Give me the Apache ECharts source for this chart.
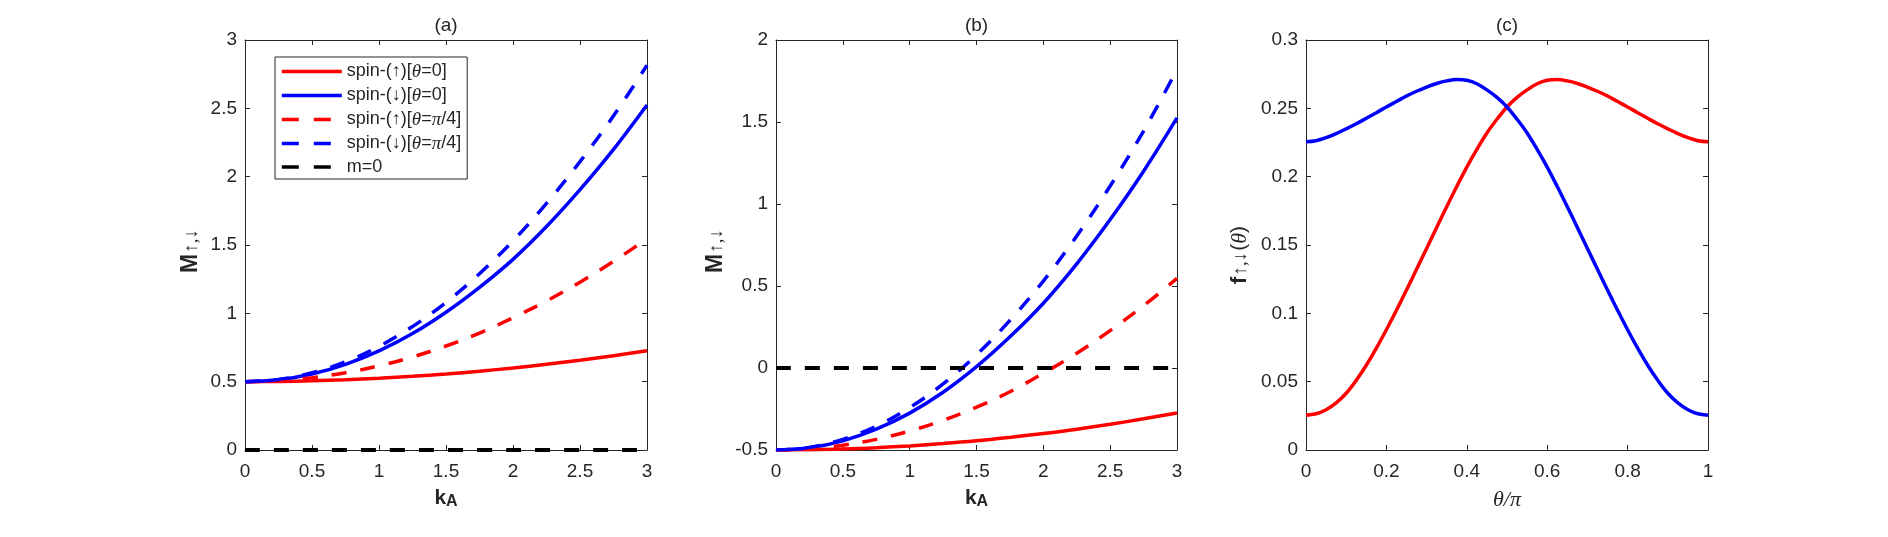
<!DOCTYPE html>
<html>
<head>
<meta charset="utf-8">
<script src="https://cdn.jsdelivr.net/npm/echarts@6/dist/echarts.min.js"></script>
<style>
  html, body { margin: 0; padding: 0; background: #ffffff; }
  #chart { width: 1888px; height: 537px; }
</style>
</head>
<body>
<div id="chart"></div>
<script>
// ---------------- data ----------------
const kA = [0, 0.25, 0.5, 0.75, 1, 1.25, 1.5, 1.75, 2, 2.25, 2.5, 2.75, 3];

// panel (a)
const aUpTheta0   = [0.500, 0.502, 0.506, 0.514, 0.525, 0.539, 0.556, 0.577, 0.600, 0.627, 0.657, 0.690, 0.726];
const aDownTheta0 = [0.500, 0.514, 0.556, 0.627, 0.725, 0.852, 1.008, 1.190, 1.395, 1.635, 1.905, 2.200, 2.525];
const aUpPi4      = [0.500, 0.507, 0.529, 0.565, 0.616, 0.681, 0.761, 0.855, 0.968, 1.090, 1.228, 1.380, 1.546];
const aDownPi4    = [0.500, 0.516, 0.565, 0.645, 0.758, 0.903, 1.080, 1.290, 1.530, 1.805, 2.110, 2.445, 2.815];

// panel (b)
const bUpTheta0   = [-0.500, -0.498, -0.494, -0.486, -0.475, -0.461, -0.444, -0.423, -0.400, -0.373, -0.343, -0.310, -0.274];
const bDownTheta0 = [-0.500, -0.486, -0.444, -0.373, -0.275, -0.148, 0.008, 0.190, 0.395, 0.635, 0.905, 1.200, 1.525];
const bUpPi4      = [-0.500, -0.493, -0.471, -0.435, -0.384, -0.319, -0.239, -0.145, -0.032, 0.090, 0.228, 0.380, 0.546];
const bDownPi4    = [-0.500, -0.484, -0.435, -0.355, -0.242, -0.097, 0.080, 0.290, 0.530, 0.805, 1.110, 1.445, 1.820];

// m = 0 reference line
const mZeroK = [0, 3];
const mZero  = [0, 0];

// panel (c)
const thetaOverPi = [0, 0.025, 0.05, 0.075, 0.1, 0.125, 0.15, 0.175, 0.2, 0.225, 0.25, 0.275, 0.3, 0.325, 0.35, 0.375, 0.4, 0.425, 0.45, 0.475, 0.5,
                     0.525, 0.55, 0.575, 0.6, 0.625, 0.65, 0.675, 0.7, 0.725, 0.75, 0.775, 0.8, 0.825, 0.85, 0.875, 0.9, 0.925, 0.95, 0.975, 1];
const fDown = [0.2255, 0.2263, 0.2285, 0.2315, 0.2350, 0.2387, 0.2427, 0.2468, 0.2510, 0.2550, 0.2590, 0.2625, 0.2656, 0.2682, 0.2701, 0.2711, 0.2705, 0.2680, 0.2635, 0.2580, 0.2510,
               0.2420, 0.2320, 0.2200, 0.2070, 0.1928, 0.1780, 0.1628, 0.1475, 0.1322, 0.1170, 0.1022, 0.0880, 0.0745, 0.0620, 0.0510, 0.0415, 0.0345, 0.0295, 0.0265, 0.0255];
const fUp   = [0.0255, 0.0265, 0.0295, 0.0345, 0.0415, 0.0510, 0.0620, 0.0745, 0.0880, 0.1022, 0.1170, 0.1322, 0.1475, 0.1628, 0.1780, 0.1928, 0.2070, 0.2200, 0.2320, 0.2420, 0.2510,
               0.2580, 0.2635, 0.2680, 0.2705, 0.2711, 0.2701, 0.2682, 0.2656, 0.2625, 0.2590, 0.2550, 0.2510, 0.2468, 0.2427, 0.2387, 0.2350, 0.2315, 0.2285, 0.2263, 0.2255];

// legend names
const seriesNames = ['spin-(↑)[θ=0]', 'spin-(↓)[θ=0]', 'spin-(↑)[θ=π/4]', 'spin-(↓)[θ=π/4]', 'm=0'];
const seriesDashed = [false, false, true, true, true];
const panelTitles = ['(a)', '(b)', '(c)'];

// ---------------- chart ----------------
const FONT = '"Liberation Sans", Arial, Helvetica, sans-serif';
const SERIF = '"Liberation Serif", "DejaVu Serif", "Times New Roman", serif';
const AX = '#262626';
const RED = '#ff0000', BLUE = '#0000ff', BLACK = '#000000';
const DASH = [15, 14];

const grids = [
  { left: 245, top: 40, width: 402, height: 410 },
  { left: 776, top: 40, width: 401, height: 410 },
  { left: 1306, top: 40, width: 402, height: 410 }
];

function zip(xs, ys) { return xs.map((x, i) => [x, ys[i]]); }

const yNameRich = {
  m: { fontFamily: FONT, fontSize: 23, fontWeight: 'bold', color: AX, verticalAlign: 'top', lineHeight: 23 },
  s: { fontFamily: SERIF, fontSize: 19, color: AX, verticalAlign: 'bottom', lineHeight: 19, padding: [17, 12, 0, 1] }
};
const kNameRich = {
  k: { fontFamily: FONT, fontSize: 21, fontWeight: 'bold', color: AX, verticalAlign: 'top', lineHeight: 22 },
  a: { fontFamily: FONT, fontSize: 16, fontWeight: 'bold', color: AX, verticalAlign: 'bottom', lineHeight: 16, padding: [12, 0, 0, 0] }
};
const fNameRich = {
  f: { fontFamily: FONT, fontSize: 22, fontWeight: 'bold', color: AX, verticalAlign: 'top', lineHeight: 22 },
  s: { fontFamily: SERIF, fontSize: 19, color: AX, verticalAlign: 'bottom', lineHeight: 19, padding: [16, 1, 0, 1] },
  n: { fontFamily: FONT, fontSize: 21, color: AX, verticalAlign: 'top', lineHeight: 22 },
  i: { fontFamily: SERIF, fontSize: 22, fontStyle: 'italic', color: AX, verticalAlign: 'top', lineHeight: 22 },
  e: { fontFamily: FONT, fontSize: 10, verticalAlign: 'top', lineHeight: 10, width: 20 }
};
const thNameRich = {
  i: { fontFamily: SERIF, fontSize: 22, fontStyle: 'italic', color: AX, lineHeight: 22 }
};

function mainX(gi, min, max, interval, name, rich, gap) {
  return {
    type: 'value', gridIndex: gi, position: 'bottom', min, max, interval,
    axisLine: { show: true, onZero: false, lineStyle: { color: AX, width: 1 } },
    axisTick: { show: true, inside: true, length: 5, lineStyle: { color: AX } },
    axisLabel: { color: AX, fontFamily: FONT, fontSize: 19, margin: 12 },
    splitLine: { show: false },
    name, nameLocation: 'middle', nameGap: gap, nameMoveOverlap: false, nameTextStyle: { rich }
  };
}
function topX(gi, min, max, interval) {
  return {
    type: 'value', gridIndex: gi, position: 'top', min, max, interval,
    axisLine: { show: true, onZero: false, lineStyle: { color: AX, width: 1 } },
    axisTick: { show: true, inside: true, length: 5, lineStyle: { color: AX } },
    axisLabel: { show: false }, splitLine: { show: false }
  };
}
function mainY(gi, min, max, interval, name, rich, gap) {
  return {
    type: 'value', gridIndex: gi, position: 'left', min, max, interval,
    axisLine: { show: true, onZero: false, lineStyle: { color: AX, width: 1 } },
    axisTick: { show: true, inside: true, length: 5, lineStyle: { color: AX } },
    axisLabel: { color: AX, fontFamily: FONT, fontSize: 19, margin: 8 },
    splitLine: { show: false },
    name, nameLocation: 'middle', nameRotate: 90, nameGap: gap, nameMoveOverlap: false, nameTextStyle: { rich }
  };
}
function rightY(gi, min, max, interval) {
  return {
    type: 'value', gridIndex: gi, position: 'right', min, max, interval,
    axisLine: { show: true, onZero: false, lineStyle: { color: AX, width: 1 } },
    axisTick: { show: true, inside: true, length: 5, lineStyle: { color: AX } },
    axisLabel: { show: false }, splitLine: { show: false }
  };
}

const xAxes = [
  mainX(0, 0, 3, 0.5, '{k|k}{a|A}', kNameRich, 38),
  mainX(1, 0, 3, 0.5, '{k|k}{a|A}', kNameRich, 38),
  mainX(2, 0, 1, 0.2, '{i|θ/π}', thNameRich, 39),
  topX(0, 0, 3, 0.5), topX(1, 0, 3, 0.5), topX(2, 0, 1, 0.2)
];
const yAxes = [
  mainY(0, 0, 3, 0.5, '{m|M}{s|↑,↓}', yNameRich, 43),
  mainY(1, -0.5, 2, 0.5, '{m|M}{s|↑,↓}', yNameRich, 49),
  mainY(2, 0, 0.3, 0.05, '{f|f}{s|↑,↓}{n|(}{i|θ}{n|)}{e|}', fNameRich, 55),
  rightY(0, 0, 3, 0.5), rightY(1, -0.5, 2, 0.5), rightY(2, 0, 0.3, 0.05)
];

function line(name, gi, xs, ys, color, dashed, width) {
  return {
    type: 'line', name, xAxisIndex: gi, yAxisIndex: gi,
    data: zip(xs, ys), smooth: 0.35, symbol: 'none', showSymbol: false,
    lineStyle: { color, width: width || 3.5, type: dashed ? DASH : 'solid', cap: 'butt' },
    itemStyle: { color },
    animation: false, silent: true
  };
}

const series = [
  line(seriesNames[0], 0, kA, aUpTheta0, RED, false),
  line(seriesNames[1], 0, kA, aDownTheta0, BLUE, false),
  line(seriesNames[2], 0, kA, aUpPi4, RED, true),
  line(seriesNames[3], 0, kA, aDownPi4, BLUE, true),
  line(seriesNames[4], 0, mZeroK, mZero, BLACK, true, 4.2),
  line(seriesNames[0], 1, kA, bUpTheta0, RED, false),
  line(seriesNames[1], 1, kA, bDownTheta0, BLUE, false),
  line(seriesNames[2], 1, kA, bUpPi4, RED, true),
  line(seriesNames[3], 1, kA, bDownPi4, BLUE, true),
  line(seriesNames[4], 1, mZeroK, mZero, BLACK, true, 4.2),
  line('f-up', 2, thetaOverPi, fUp, RED, false),
  line('f-down', 2, thetaOverPi, fDown, BLUE, false)
];

function legendLabel(name) {
  const parts = name.split(/([θπ])/);
  return parts.filter(p => p.length).map(p => (p === 'θ' || p === 'π') ? '{i|' + p + '}' : '{n|' + p + '}').join('');
}

const titles = panelTitles.map((t, i) => ({
  text: t, left: grids[i].left + grids[i].width / 2, top: 16, textAlign: 'center', padding: 0,
  textStyle: { fontFamily: FONT, fontSize: 19, fontWeight: 'normal', color: AX }
}));

const option = {
  backgroundColor: '#ffffff',
  animation: false,
  title: titles,
  grid: grids,
  xAxis: xAxes,
  yAxis: yAxes,
  legend: {
    data: seriesNames.map((n, i) => ({
      name: n,
      lineStyle: { width: 3.6, type: seriesDashed[i] ? [17, 15] : 'solid' }
    })),
    orient: 'vertical',
    left: 275, top: 57,
    padding: [5, 6, 3, 5],
    itemGap: 5,
    itemWidth: 60, itemHeight: 14,
    borderColor: AX, borderWidth: 1, backgroundColor: '#ffffff',
    borderRadius: 0,
    selectedMode: false,
    itemStyle: { opacity: 0, borderWidth: 0 },
    lineStyle: { width: 3.6 },
    formatter: legendLabel,
    textStyle: {
      color: AX, fontFamily: FONT, fontSize: 18, lineHeight: 18,
      rich: {
        n: { fontFamily: FONT, fontSize: 18, color: AX, lineHeight: 18 },
        i: { fontFamily: SERIF, fontSize: 19, fontStyle: 'italic', color: AX, lineHeight: 18 }
      }
    }
  },
  series
};

const chart = echarts.init(document.getElementById('chart'), null, { renderer: 'canvas' });
chart.setOption(option);
</script>
</body>
</html>
